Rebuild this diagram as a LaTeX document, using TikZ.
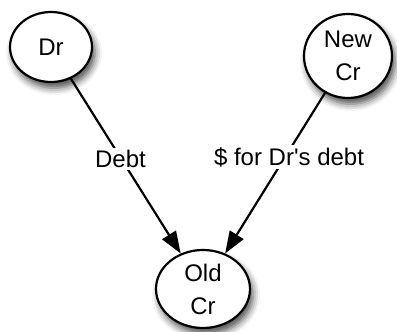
\documentclass[tikz,border=0pt]{standalone}
\usepackage{fontspec}
\setmainfont{Liberation Sans}
\usetikzlibrary{shapes.geometric,arrows.meta,shadows.blur}
\begin{document}
\begin{tikzpicture}[x=1pt,y=-1pt,
  party/.style={ellipse,draw=black,line width=2.2pt,fill=white,
    align=center,inner sep=0pt,font=\fontsize{24}{33}\selectfont,
    blur shadow={shadow xshift=3pt,shadow yshift=-6pt,
      shadow blur radius=7pt,shadow opacity=70}},
  flow/.style={line width=2.2pt,-{Triangle[length=22pt,width=16pt]}},
  tag/.style={fill=white,inner sep=2pt,font=\fontsize{24}{28}\selectfont}]
  \useasboundingbox (0,0) rectangle (397,332);
  \node[party,minimum width=82pt,minimum height=70pt] (dr) at (51,47) {Dr};
  \node[party,minimum width=88pt,minimum height=84pt] (newcr) at (348,56) {New\\Cr};
  \node[party,minimum width=94pt,minimum height=78pt] (oldcr) at (203,289) {Old\\Cr};
  \draw[flow] (dr) -- node[tag,pos=0.46,xshift=-1pt] (debt) {Debt} (oldcr);
  \draw[flow] (newcr) -- node[tag,pos=0.40,xshift=4pt] (pay) {\$ for Dr\textquotesingle s debt} (oldcr);
\end{tikzpicture}
\end{document}
